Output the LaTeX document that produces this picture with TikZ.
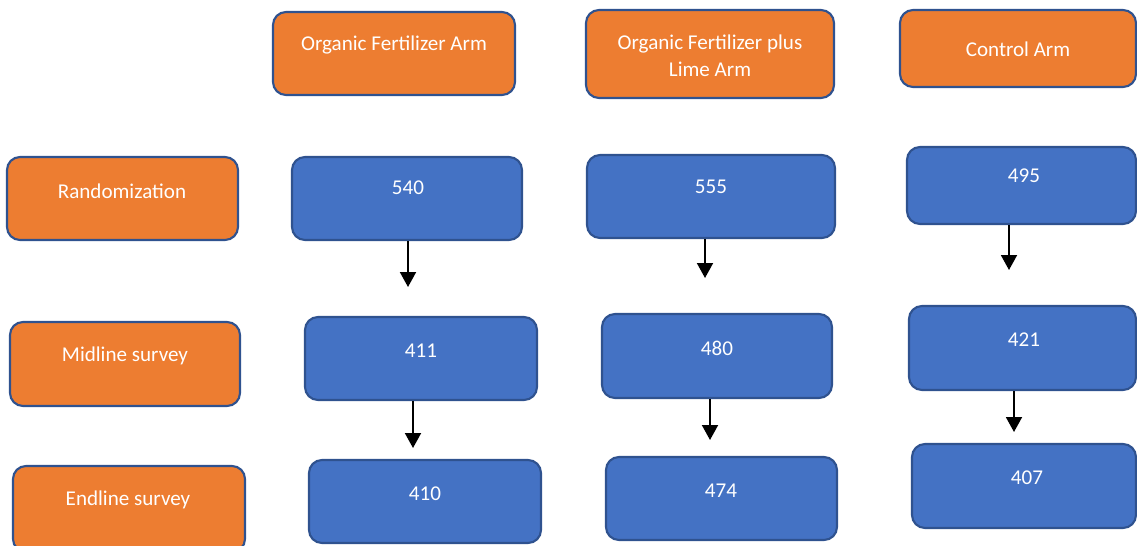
\documentclass[tikz,border=0pt]{standalone}
\usepackage{fontspec}
\setmainfont{Carlito}
\usetikzlibrary{fit,arrows.meta}
\definecolor{orng}{HTML}{ED7D31}
\definecolor{blu}{HTML}{4472C4}
\definecolor{edge}{HTML}{2F528F}
\tikzset{
  box/.style={draw=edge, line width=1.2pt, rounded corners=0.26cm, inner sep=0pt},
  obox/.style={box, fill=orng},
  bbox/.style={box, fill=blu},
  txt/.style={text=white, font=\fontsize{12}{15.5}\selectfont, align=center, inner sep=0pt, yshift=-0.04cm},
  arr/.style={line width=1.1pt, -{Triangle[width=0.32cm,length=0.3cm]}}
}
\begin{document}
\begin{tikzpicture}[x=0.02cm,y=-0.02cm]
\useasboundingbox (0,0) rectangle (1137,545);
% top row
\node[obox, fit={(273,12) (515,95)}] (ofa) {};
\node[obox, fit={(586,10) (834,98)}] (ofla) {};
\node[obox, fit={(900,10) (1136,87)}] (ctl) {};
\node[txt] at (394,43) {Organic Fertilizer Arm};
\node[txt] at (710,54) {Organic Fertilizer plus\\Lime Arm};
\node[txt] at (1018,47) {Control Arm};
% left column
\node[obox, fit={(7,157) (238,240)}] (rand) {};
\node[obox, fit={(10,322) (240,406)}] (mid) {};
\node[obox, fit={(13,466) (245,552)}] (end) {};
\node[txt] at (122,189) {Randomization};
\node[txt] at (125,354) {Midline survey};
\node[txt] at (128,498) {Endline survey};
% column 1
\node[bbox, fit={(292,157) (522,240)}] (b540) {};
\node[bbox, fit={(305,317) (537,400)}] (b411) {};
\node[bbox, fit={(309,460) (541,543)}] (b410) {};
\node[txt] at (408,186) {540};
\node[txt] at (421,349) {411};
\node[txt] at (425,492) {410};
% column 2
\node[bbox, fit={(587,155) (835,238)}] (b555) {};
\node[bbox, fit={(602,314) (832,398)}] (b480) {};
\node[bbox, fit={(606,457) (837,540)}] (b474) {};
\node[txt] at (711,185) {555};
\node[txt] at (717,346) {480};
\node[txt] at (721,489) {474};
% column 3
\node[bbox, fit={(907,147) (1136,224)}] (b495) {};
\node[bbox, fit={(909,306) (1136,390)}] (b421) {};
\node[bbox, fit={(912,444) (1136,528)}] (b407) {};
\node[txt] at (1024,174) {495};
\node[txt] at (1024,338) {421};
\node[txt] at (1027,476) {407};
% arrows
\coordinate (e1) at (408,287);
\coordinate (e2) at (413,448);
\coordinate (e3) at (705,278);
\coordinate (e4) at (710,440);
\coordinate (e5) at (1009,270);
\coordinate (e6) at (1014,432);
\draw[arr] (b540.south -| e1) -- (e1);
\draw[arr] (b411.south -| e2) -- (e2);
\draw[arr] (b555.south -| e3) -- (e3);
\draw[arr] (b480.south -| e4) -- (e4);
\draw[arr] (b495.south -| e5) -- (e5);
\draw[arr] (b421.south -| e6) -- (e6);
\end{tikzpicture}
\end{document}
